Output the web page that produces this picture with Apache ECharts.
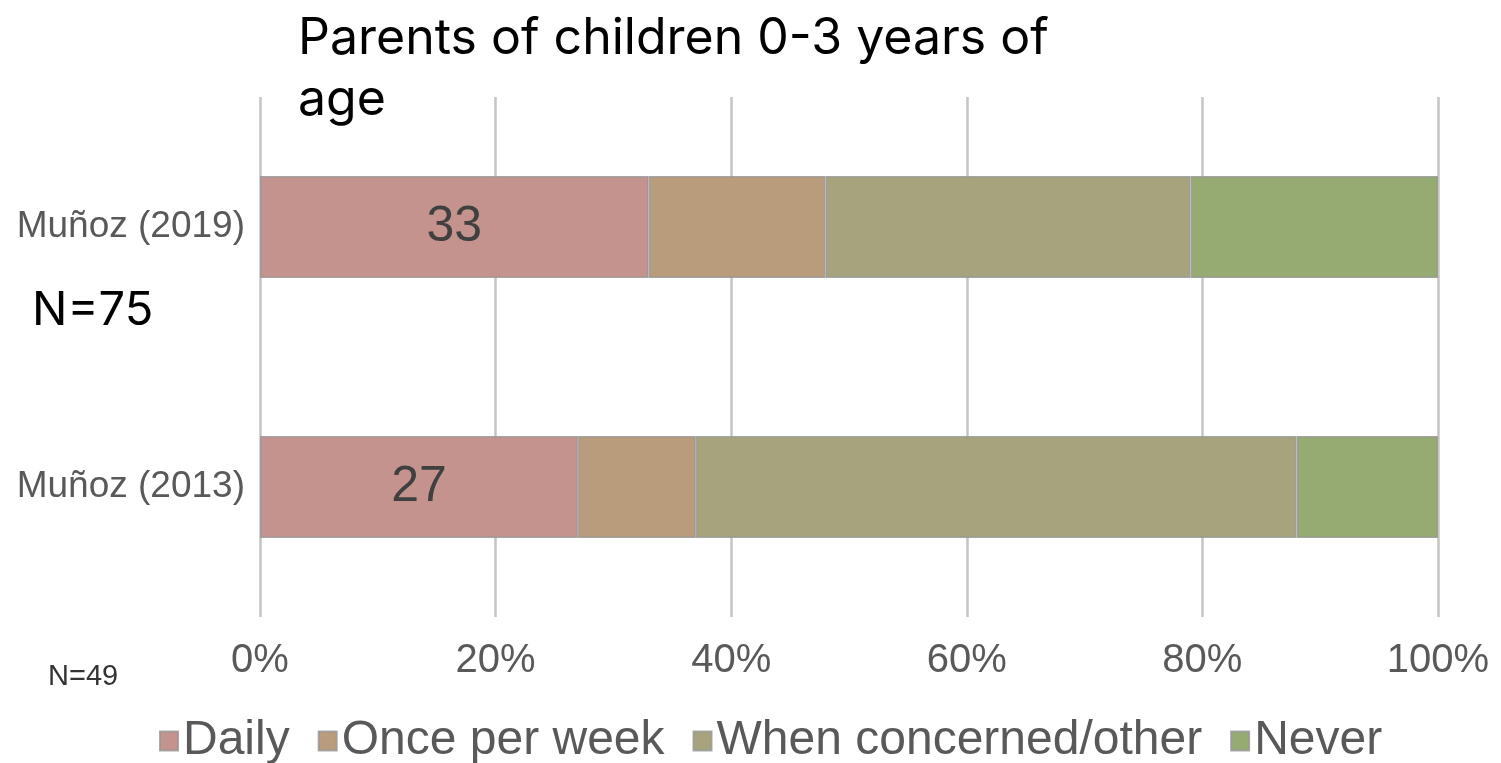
<!DOCTYPE html>
<html>
<head>
<meta charset="utf-8">
<script src="https://cdn.jsdelivr.net/npm/echarts@6/dist/echarts.min.js"></script>
<style>
  html, body { margin: 0; padding: 0; background: #ffffff; }
  #chart { width: 1501px; height: 763px; }
</style>
</head>
<body>
<div id="chart"></div>
<script>
// Survey groups (bottom to top on the category axis)
const categories = ['Muñoz (2013)', 'Muñoz (2019)'];
// Share of respondents per answer, in percent
const daily = [27, 33];
const oncePerWeek = [10, 15];
const whenConcerned = [51, 31];
const never = [12, 21];
const seriesNames = ['Daily', 'Once per week', 'When concerned/other', 'Never'];
const xTicks = [0, 20, 40, 60, 80, 100];

const colors = ['#c4938e', '#b99c7c', '#a6a37d', '#95ab72'];
const barBorder = { borderColor: 'rgba(150,150,150,0.8)', borderWidth: 1.5 };

const chart = echarts.init(document.getElementById('chart'));

function stackSeries(name, data, color, withLabel) {
  return {
    name: name,
    type: 'bar',
    stack: 'total',
    data: data,
    barWidth: 102,
    itemStyle: Object.assign({ color: color }, barBorder),
    label: withLabel ? {
      show: true,
      position: 'inside',
      fontFamily: 'Liberation Sans, Arial, sans-serif',
      fontSize: 50,
      color: '#404040'
    } : { show: false },
    emphasis: { disabled: true }
  };
}

chart.setOption({
  animation: false,
  color: colors,
  title: {
    text: 'Parents of children 0-3 years of\nage',
    left: 293,
    top: 3,
    textStyle: {
      fontFamily: 'Inter, sans-serif',
      fontWeight: 'normal',
      fontSize: 50,
      lineHeight: 61,
      color: '#000000'
    }
  },
  legend: {
    data: seriesNames,
    left: 154,
    top: 712,
    icon: 'rect',
    itemWidth: 18,
    itemHeight: 19,
    itemGap: 28,
    textStyle: {
      fontFamily: 'Liberation Sans, Arial, sans-serif',
      fontSize: 48,
      color: '#595959'
    }
  },
  grid: { left: 260, right: 63, top: 97, bottom: 146 },
  xAxis: {
    type: 'value',
    min: xTicks[0],
    max: xTicks[xTicks.length - 1],
    interval: 20,
    axisLine: { show: false },
    axisTick: { show: false },
    splitLine: { show: true, lineStyle: { color: '#c4c4c4', width: 2.5 } },
    axisLabel: {
      formatter: '{value}%',
      margin: 24,
      fontFamily: 'Liberation Sans, Arial, sans-serif',
      fontSize: 40,
      color: '#595959'
    }
  },
  yAxis: {
    type: 'category',
    data: categories,
    axisLine: { show: false },
    axisTick: { show: false },
    axisLabel: {
      margin: 15,
      fontFamily: 'Liberation Sans, Arial, sans-serif',
      fontSize: 37,
      color: '#595959'
    }
  },
  graphic: [
    {
      type: 'text',
      left: 32,
      top: 287,
      style: {
        text: 'N=75',
        fontFamily: 'Inter, sans-serif',
        fontSize: 47,
        fill: '#000000'
      }
    },
    {
      type: 'text',
      left: 48,
      top: 662,
      style: {
        text: 'N=49',
        fontFamily: 'Liberation Sans, Arial, sans-serif',
        fontSize: 29,
        fill: '#333333'
      }
    }
  ],
  series: [
    stackSeries(seriesNames[0], daily, colors[0], true),
    stackSeries(seriesNames[1], oncePerWeek, colors[1], false),
    stackSeries(seriesNames[2], whenConcerned, colors[2], false),
    stackSeries(seriesNames[3], never, colors[3], false)
  ]
});
</script>
</body>
</html>
